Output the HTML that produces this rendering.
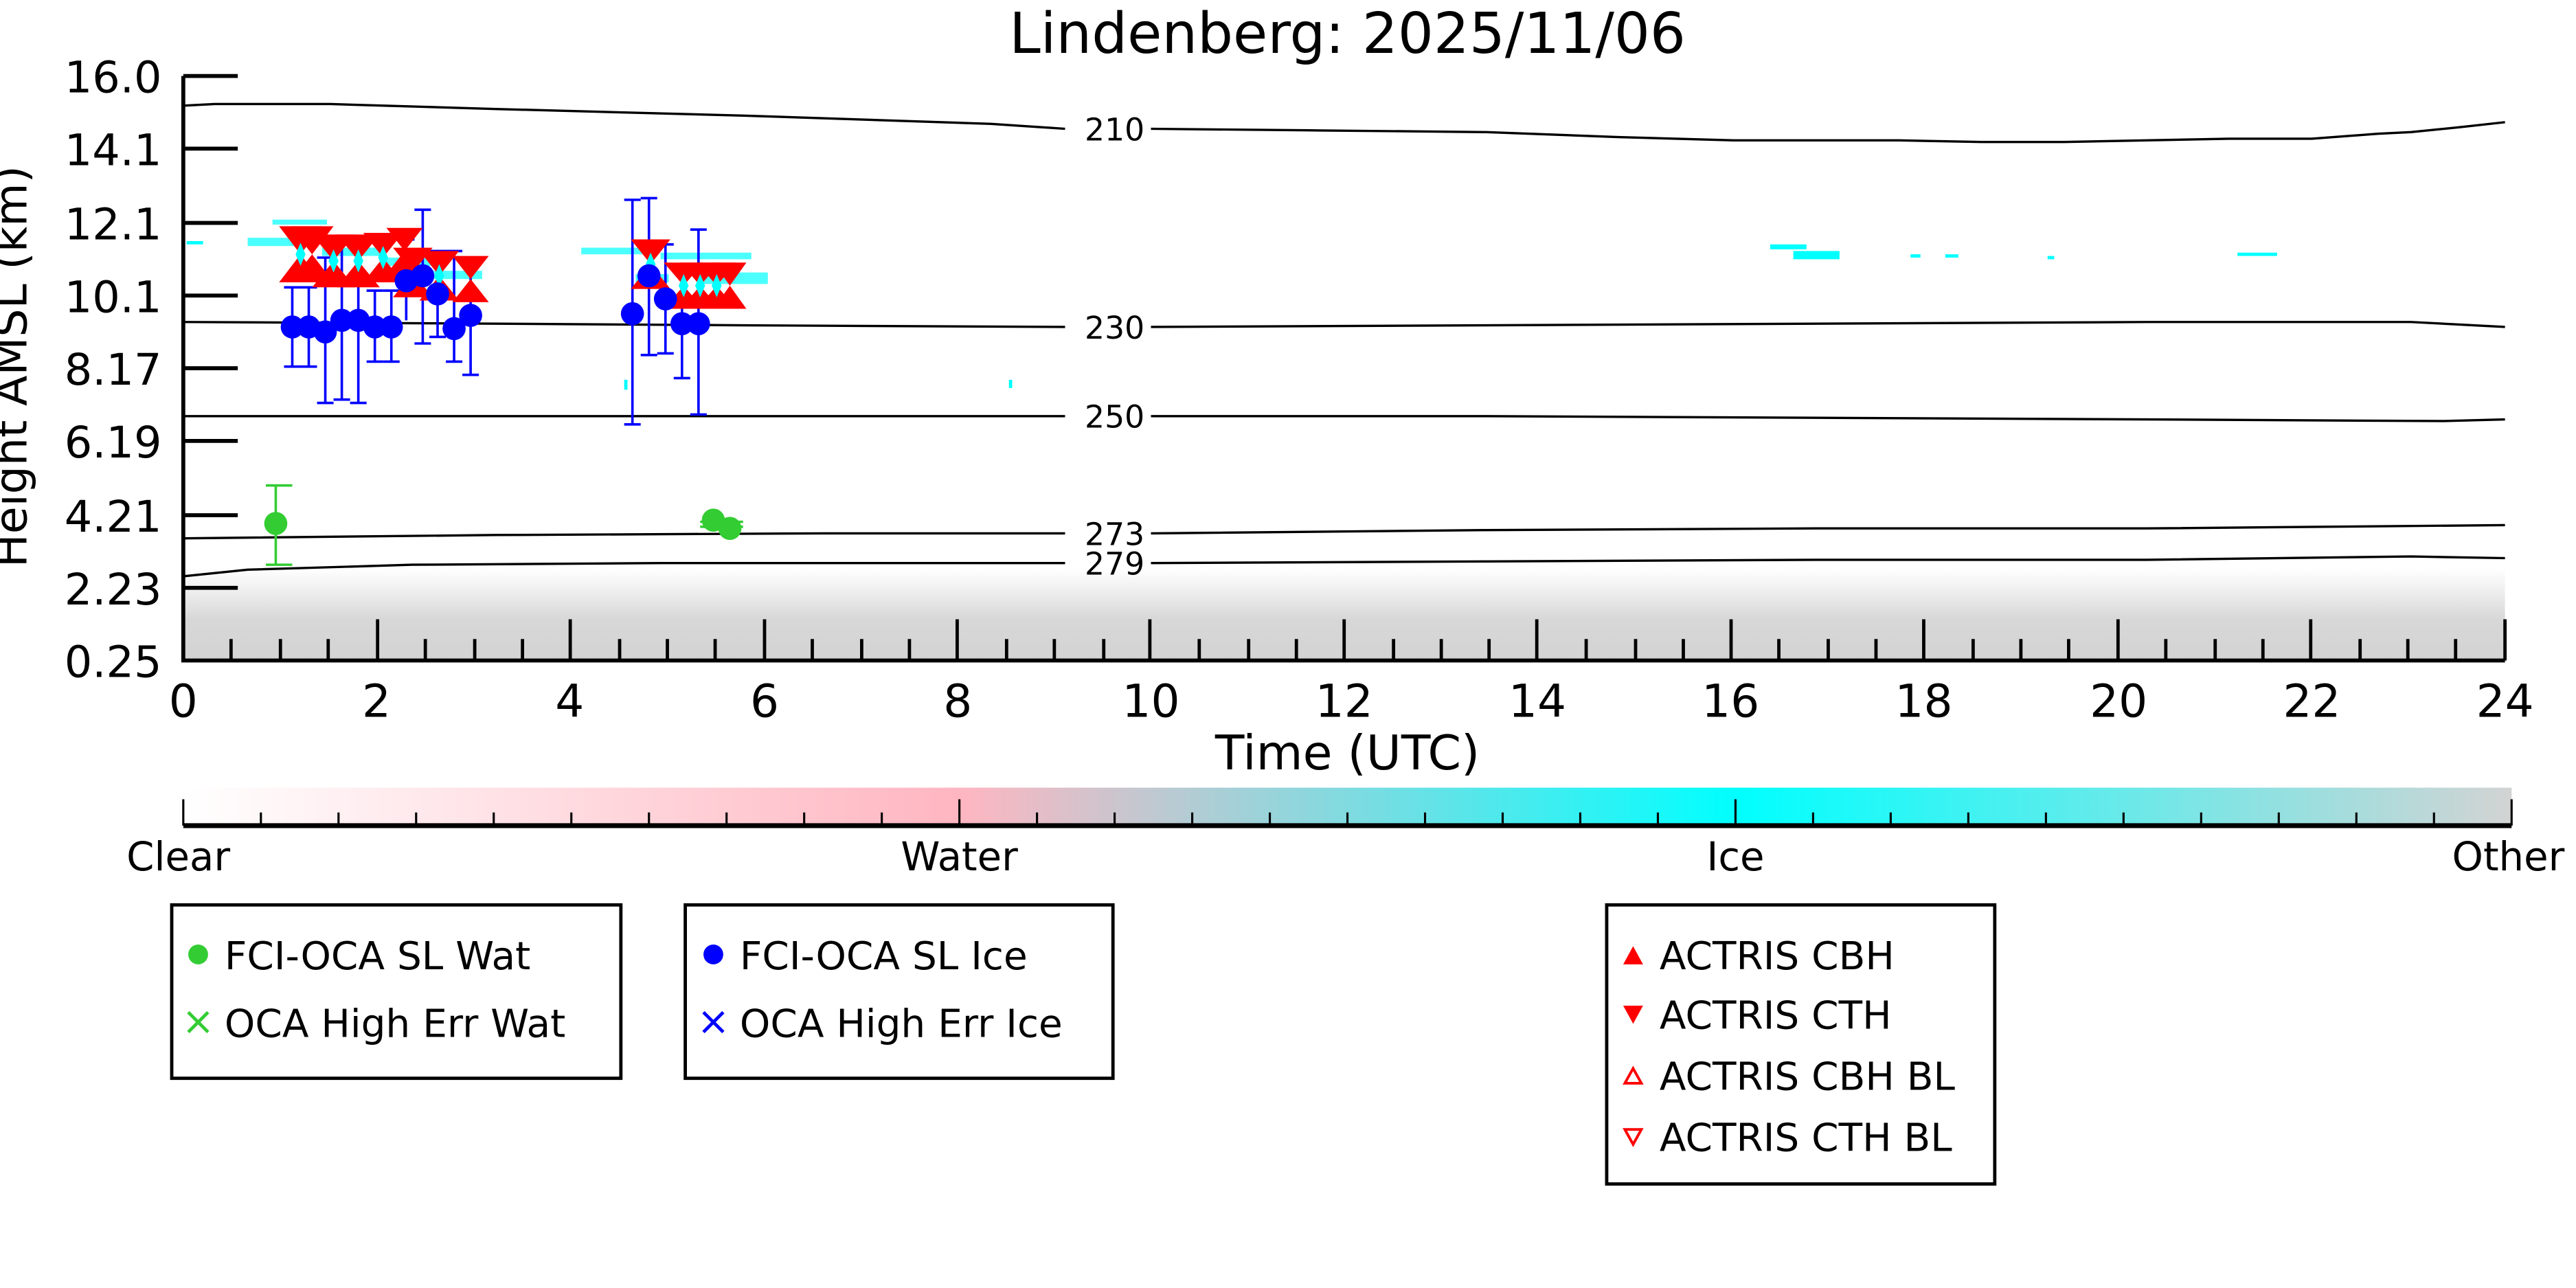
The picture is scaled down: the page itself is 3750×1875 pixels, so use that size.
<!DOCTYPE html>
<html><head><meta charset="utf-8"><style>
html,body{margin:0;padding:0;background:#fff;}
svg{display:block;}
text{font-family:"DejaVu Sans","Liberation Sans",sans-serif;}
</style></head><body>
<svg width="3750" height="1875" viewBox="0 0 1560 780" preserveAspectRatio="none" xmlns="http://www.w3.org/2000/svg">
<defs>
<linearGradient id="cb" x1="0" x2="1" y1="0" y2="0">
<stop offset="0" stop-color="#ffffff"/>
<stop offset="0.333" stop-color="#ffb6c1"/>
<stop offset="0.667" stop-color="#00ffff"/>
<stop offset="1" stop-color="#d3d3d3"/>
</linearGradient>
<linearGradient id="gr" x1="0" x2="0" y1="0" y2="1">
<stop offset="0" stop-color="#d3d3d3" stop-opacity="0"/>
<stop offset="0.3" stop-color="#d3d3d3" stop-opacity="0.45"/>
<stop offset="0.55" stop-color="#d3d3d3" stop-opacity="0.9"/>
<stop offset="1" stop-color="#d3d3d3"/>
</linearGradient>
</defs>
<text x="816" y="32" font-size="34" text-anchor="middle">Lindenberg: 2025/11/06</text>
<rect x="111" y="344" width="1406" height="56" fill="url(#gr)"/>
<g fill="#00ffff">
<rect x="113" y="146" width="10" height="2"/><rect x="150" y="144" width="30" height="5" opacity="0.7"/><rect x="165" y="133" width="33" height="3" opacity="0.7"/>
<rect x="195" y="150" width="35" height="5" opacity="0.7"/><rect x="232" y="156" width="32" height="5" opacity="0.7"/><rect x="262" y="164" width="30" height="5" opacity="0.7"/>
<rect x="352" y="150" width="40" height="4" opacity="0.7"/><rect x="385" y="166" width="20" height="5" opacity="0.7"/><rect x="400" y="153" width="55" height="4" opacity="0.7"/>
<rect x="425" y="165" width="40" height="7" opacity="0.7"/><rect x="1072" y="148" width="22" height="3"/><rect x="1086" y="152" width="28" height="5"/>
<rect x="1157" y="154" width="6" height="2"/><rect x="1178" y="154" width="8" height="2"/>
<rect x="1240" y="155" width="4" height="2"/><rect x="1355" y="153" width="24" height="2"/><rect x="611" y="230" width="2" height="5"/>
<rect x="378" y="230" width="2" height="6"/>
</g>
<g fill="none" stroke="#000" stroke-width="1.4">
<path d="M111,64 L130,63 L200,63 L300,66 L450,70 L600,75 L645,78 M697,78 L800,79 L900,80 L980,83 L1050,85 L1150,85 L1200,86 L1250,86 L1300,85 L1350,84 L1400,84 L1440,81 L1460,80 L1490,77 L1517,74"/>
<path d="M111,195 L300,196 L450,197 L645,198 M697,198 L900,197 L1100,196 L1300,195 L1460,195 L1517,198"/>
<path d="M111,252 L300,252 L500,252 L645,252 M697,252 L900,252 L1100,253 L1300,254 L1480,255 L1517,254"/>
<path d="M111,326 L300,324 L500,323 L645,323 M697,323 L900,321 L1100,320 L1300,320 L1517,318"/>
<path d="M111,349 L150,345 L250,342 L400,341 L645,341 M697,341 L900,340 L1100,339 L1300,339 L1460,337 L1517,338"/>
</g>
<g font-size="19" text-anchor="middle">
<text x="675" y="85">210</text><text x="675" y="205">230</text><text x="675" y="259">250</text><text x="675" y="330">273</text><text x="675" y="348">279</text>
</g>
<g stroke="#0000ff" stroke-width="1.5" fill="none">
<path d="M177,174V222M172,174H182M172,222H182"/>
<path d="M187,174V222M182,174H192M182,222H192"/>
<path d="M197,156V244M192,156H202M192,244H202"/>
<path d="M207,145V242M202,145H212M202,242H212"/>
<path d="M217,145V244M212,145H222M212,244H222"/>
<path d="M227,176V219M222,176H232M222,219H232"/>
<path d="M237,176V219M232,176H242M232,219H242"/>
<path d="M246,145V194M241,145H251"/>
<path d="M256,127V208M251,127H261M251,208H261"/>
<path d="M265,152V204M260,152H270M260,204H270"/>
<path d="M275,152V219M270,152H280M270,219H280"/>
<path d="M285,156V227M280,156H290M280,227H290"/>
<path d="M383,121V257M378,121H388M378,257H388"/>
<path d="M393,120V215M388,120H398M388,215H398"/>
<path d="M403,148V214M398,148H408M398,214H408"/>
<path d="M413,160V229M408,160H418M408,229H418"/>
<path d="M423,139V251M418,139H428M418,251H428"/>
</g>
<g fill="#ff0000">
<path d="M169,137h26l-13,17zM169,171h26l-13,-17z"/>
<path d="M176,137h26l-13,17zM176,171h26l-13,-17z"/>
<path d="M189,142h26l-13,16zM189,174h26l-13,-16z"/>
<path d="M204,142h26l-13,16zM204,174h26l-13,-16z"/>
<path d="M220,141h24l-12,15zM220,171h24l-12,-15z"/>
<path d="M234,138h22l-11,14zM234,166h22l-11,-14z"/>
<path d="M238,150h24l-12,15zM238,180h24l-12,-15z"/>
<path d="M254,152h24l-12,15zM254,182h24l-12,-15z"/>
<path d="M274,155h22l-11,14zM274,183h22l-11,-14z"/>
<path d="M382,145h24l-12,15zM382,175h24l-12,-15z"/>
<path d="M402,159h24l-12,14zM402,187h24l-12,-14z"/>
<path d="M412,159h24l-12,14zM412,187h24l-12,-14z"/>
<path d="M422,159h24l-12,14zM422,187h24l-12,-14z"/>
<path d="M432,159h20l-10,14zM432,187h20l-10,-14z"/>
</g>
<g fill="#00ffff">
<path d="M182,147l3,7l-3,7l-3,-7z"/><path d="M202,151l3,7l-3,7l-3,-7z"/><path d="M217,151l3,7l-3,7l-3,-7z"/>
<path d="M232,149l3,7l-3,7l-3,-7z"/><path d="M266,160l3,7l-3,7l-3,-7z"/><path d="M394,153l3,7l-3,7l-3,-7z"/>
<path d="M414,166l3,7l-3,7l-3,-7z"/><path d="M424,166l3,7l-3,7l-3,-7z"/><path d="M434,166l3,7l-3,7l-3,-7z"/>
</g>
<g fill="#0000ff">
<circle cx="177" cy="198" r="7"/><circle cx="187" cy="198" r="7"/><circle cx="197" cy="201" r="7"/><circle cx="207" cy="194" r="7"/>
<circle cx="217" cy="194" r="7"/><circle cx="227" cy="198" r="7"/><circle cx="237" cy="198" r="7"/><circle cx="246" cy="170" r="7"/>
<circle cx="256" cy="167" r="7"/><circle cx="265" cy="178" r="7"/><circle cx="275" cy="199" r="7"/><circle cx="285" cy="191" r="7"/>
<circle cx="383" cy="190" r="7"/><circle cx="393" cy="167" r="7"/><circle cx="403" cy="181" r="7"/><circle cx="413" cy="196" r="7"/><circle cx="423" cy="196" r="7"/>
</g>
<g stroke="#33cc33" stroke-width="1.5" fill="none">
<path d="M167,294V342M161,294H177M161,342H177"/>
<path d="M424,316H450M424,319H450"/>
</g>
<g fill="#33cc33"><circle cx="167" cy="317" r="7"/><circle cx="432" cy="315" r="7"/><circle cx="442" cy="320" r="7"/></g>
<g stroke="#000" stroke-width="2.4" fill="none">
<path d="M111,46V400H1517"/>
<path d="M111,46h33M111,90h33M111,135h33M111,179h33M111,223h33M111,267h33M111,312h33M111,356h33"/>
</g>
<g stroke="#000" stroke-width="2" transform="translate(111,0) scale(0.99716,1) translate(-111,0)">
<path d="M229,400v-25M346,400v-25M464,400v-25M581,400v-25M698,400v-25M816,400v-25M933,400v-25M1051,400v-25M1168,400v-25M1286,400v-25M1403,400v-25M1521,400v-25"/>
<path d="M140,400v-13M170,400v-13M199,400v-13M258,400v-13M288,400v-13M317,400v-13M376,400v-13M405,400v-13M434,400v-13M493,400v-13M523,400v-13M552,400v-13M611,400v-13M640,400v-13M670,400v-13M728,400v-13M758,400v-13M787,400v-13M846,400v-13M875,400v-13M904,400v-13M963,400v-13M993,400v-13M1022,400v-13M1080,400v-13M1110,400v-13M1139,400v-13M1198,400v-13M1227,400v-13M1256,400v-13M1315,400v-13M1345,400v-13M1374,400v-13M1433,400v-13M1462,400v-13M1491,400v-13"/>
</g>
<g font-size="26.5" text-anchor="end">
<text x="98" y="56">16.0</text><text x="98" y="100">14.1</text><text x="98" y="145">12.1</text><text x="98" y="189">10.1</text>
<text x="98" y="233">8.17</text><text x="98" y="277">6.19</text><text x="98" y="322">4.21</text><text x="98" y="366">2.23</text><text x="98" y="410">0.25</text>
</g>
<g font-size="27.5" text-anchor="middle">
<text x="111" y="434">0</text><text x="228" y="434">2</text><text x="345" y="434">4</text><text x="463" y="434">6</text><text x="580" y="434">8</text>
<text x="697" y="434">10</text><text x="814" y="434">12</text><text x="931" y="434">14</text><text x="1048" y="434">16</text><text x="1165" y="434">18</text>
<text x="1283" y="434">20</text><text x="1400" y="434">22</text><text x="1517" y="434">24</text>
</g>
<text x="816" y="466" font-size="29" text-anchor="middle">Time (UTC)</text>
<text transform="translate(16,222) rotate(-90)" font-size="27" text-anchor="middle">Height AMSL (km)</text>
<rect x="111" y="477" width="1410" height="22" fill="url(#cb)"/>
<path d="M111,500H1521" stroke="#000" stroke-width="3"/>
<g stroke="#000" stroke-width="1.3">
<path d="M111,500v-16M581,500v-16M1051,500v-16M1521,500v-16"/>
<path d="M158,500v-8M205,500v-8M252,500v-8M299,500v-8M346,500v-8M393,500v-8M440,500v-8M487,500v-8M534,500v-8M628,500v-8M675,500v-8M722,500v-8M769,500v-8M816,500v-8M863,500v-8M910,500v-8M957,500v-8M1004,500v-8M1098,500v-8M1145,500v-8M1192,500v-8M1239,500v-8M1286,500v-8M1333,500v-8M1380,500v-8M1427,500v-8M1474,500v-8"/>
</g>
<g font-size="24" text-anchor="middle">
<text x="108" y="527">Clear</text><text x="581" y="527">Water</text><text x="1051" y="527">Ice</text><text x="1519" y="527">Other</text>
</g>
<g fill="none" stroke="#000" stroke-width="2">
<rect x="104" y="548" width="272" height="105"/>
<rect x="415" y="548" width="259" height="105"/>
<rect x="973" y="548" width="235" height="169"/>
</g>
<g font-size="23.5">
<circle cx="120" cy="578" r="6" fill="#33cc33"/>
<text x="136" y="587">FCI-OCA SL Wat</text>
<path d="M114,613l12,12M126,613l-12,12" stroke="#33cc33" stroke-width="2"/>
<text x="136" y="628">OCA High Err Wat</text>
<circle cx="432" cy="578" r="6" fill="#0000ff"/>
<text x="448" y="587">FCI-OCA SL Ice</text>
<path d="M426,613l12,12M438,613l-12,12" stroke="#0000ff" stroke-width="2"/>
<text x="448" y="628">OCA High Err Ice</text>
<path d="M983,584h12l-6,-11z" fill="#ff0000"/>
<text x="1005" y="587">ACTRIS CBH</text>
<path d="M983,609h12l-6,11z" fill="#ff0000"/>
<text x="1005" y="623">ACTRIS CTH</text>
<path d="M984,656h10l-5,-9z" fill="none" stroke="#ff0000" stroke-width="1.6"/>
<text x="1005" y="660">ACTRIS CBH BL</text>
<path d="M984,684h10l-5,9z" fill="none" stroke="#ff0000" stroke-width="1.6"/>
<text x="1005" y="697">ACTRIS CTH BL</text>
</g>
</svg>
</body></html>
